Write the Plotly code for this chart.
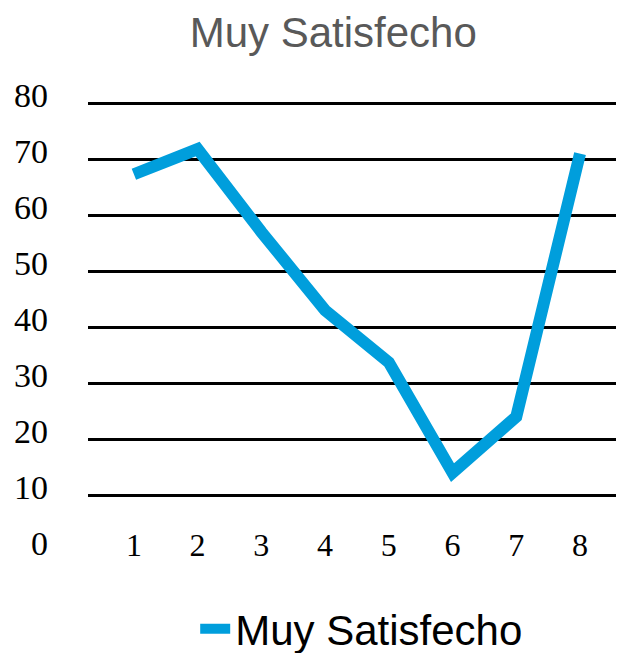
import plotly.graph_objects as go

x_vals = [1, 2, 3, 4, 5, 6, 7, 8]
muy_satisfecho = [67.3, 71.8, 57.0, 43.0, 33.7, 14.0, 24.0, 71.0]
y_ticks = [0, 10, 20, 30, 40, 50, 60, 70, 80]
series_name = "Muy Satisfecho"
title_text = "Muy Satisfecho"

fig = go.Figure()
fig.add_trace(go.Scatter(
    x=x_vals, y=muy_satisfecho, mode="lines", name=series_name,
    line=dict(color="#009EDC", width=12),
))

fig.update_layout(
    width=616, height=645,
    paper_bgcolor="white", plot_bgcolor="white",
    margin=dict(l=80, r=0, t=84, b=102, autoexpand=False),
    title=dict(text=title_text, x=0.528, xanchor="center", xref="container",
               y=0.962, yanchor="middle", yref="container",
               font=dict(family="Liberation Sans", size=42, color="#595959")),
    showlegend=True,
    legend=dict(orientation="h", x=0.2, xanchor="left", y=-0.17, yanchor="middle",
                font=dict(family="Liberation Sans", size=42, color="black")),
    xaxis=dict(range=[0.28, 8.69], tickvals=x_vals, ticktext=[str(v) for v in x_vals],
               showgrid=False, zeroline=False, showline=False, ticks="",
               ticklabelstandoff=-28, automargin=False,
               tickfont=dict(family="Liberation Serif", size=32, color="black")),
    yaxis=dict(range=[0, 82], tickvals=y_ticks, ticktext=[str(v) for v in y_ticks],
               showgrid=True, gridcolor="black", gridwidth=3,
               zeroline=True, zerolinecolor="rgba(0,0,0,0)", zerolinewidth=1,
               showline=False, ticks="", ticklabelstandoff=39, ticklabelshift=-8,
               automargin=False,
               tickfont=dict(family="Liberation Serif", size=34, color="black")),
)

fig.write_html("out.html")
